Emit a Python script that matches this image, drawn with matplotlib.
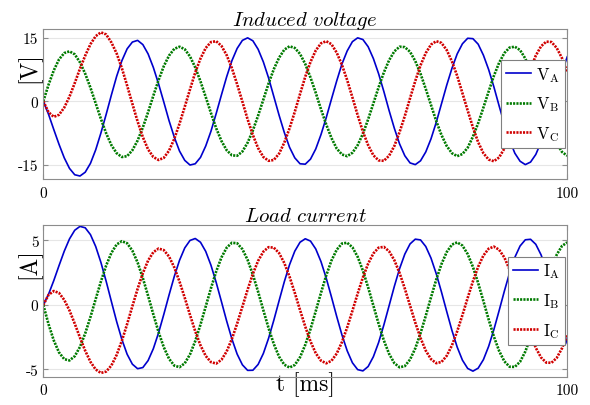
import matplotlib
matplotlib.use('Agg')
from matplotlib import pyplot as plt

# time axis [ms], one sample per ms
t = list(range(0, 101))

# induced voltage [V]
va = [0.0, -3.1, -6.7, -10.2, -13.4, -15.9, -17.4, -17.7, -16.8, -14.7,
      -11.5, -7.5, -3.1, 1.5, 5.9, 9.6, 12.4, 14.0, 14.4, 13.4,
      11.2, 8.0, 4.1, -0.2, -4.6, -8.5, -11.8, -14.0, -15.1, -14.8,
      -13.3, -10.6, -7.1, -2.9, 1.5, 5.8, 9.6, 12.5, 14.4, 15.0,
      14.3, 12.3, 9.3, 5.5, 1.1, -3.3, -7.4, -10.9, -13.4, -14.8,
      -14.9, -13.7, -11.3, -7.9, -3.9, 0.5, 4.8, 8.8, 11.9, 14.1,
      15.0, 14.6, 12.9, 10.1, 6.5, 2.3, -2.2, -6.4, -10.1, -12.9,
      -14.6, -15.0, -14.1, -12.0, -8.9, -5.0, -0.6, 3.8, 7.8, 11.2,
      13.6, 14.9, 14.8, 13.5, 10.9, 7.5, 3.4, -1.1, -5.4, -9.2,
      -12.3, -14.2, -15.0, -14.4, -12.6, -9.7, -6.0, -1.7, 2.7, 6.9,
      10.5]
vb = [0.0, 3.9, 7.3, 9.9, 11.4, 11.8, 11.1, 9.2, 6.5, 3.2,
      -0.5, -4.2, -7.6, -10.4, -12.3, -13.2, -13.0, -11.6, -9.3, -6.2,
      -2.6, 1.3, 5.0, 8.3, 10.8, 12.4, 12.9, 12.3, 10.6, 8.0,
      4.7, 1.0, -2.8, -6.4, -9.4, -11.6, -12.8, -12.9, -11.9, -9.8,
      -6.9, -3.4, 0.4, 4.2, 7.6, 10.3, 12.2, 13.0, 12.6, 11.2,
      8.8, 5.6, 2.0, -1.9, -5.5, -8.7, -11.2, -12.6, -13.0, -12.2,
      -10.4, -7.7, -4.3, -0.5, 3.3, 6.8, 9.7, 11.8, 12.9, 12.8,
      11.7, 9.5, 6.5, 2.9, -0.9, -4.7, -8.0, -10.6, -12.3, -13.0,
      -12.5, -11.0, -8.4, -5.2, -1.5, 2.3, 6.0, 9.1, 11.4, 12.7,
      12.9, 12.1, 10.1, 7.3, 3.8, 0.0, -3.7, -7.2, -10.0, -12.0,
      -12.9]
vc = [0.0, -2.6, -3.7, -3.2, -1.5, 1.1, 4.3, 7.7, 10.8, 13.5,
      15.4, 16.3, 15.8, 13.9, 11.3, 7.8, 3.7, -0.6, -4.8, -8.5,
      -11.4, -13.2, -13.9, -13.4, -11.7, -8.9, -5.3, -1.3, 2.8, 6.8,
      10.1, 12.6, 14.0, 14.2, 13.1, 10.9, 7.8, 4.0, -0.1, -4.3,
      -8.0, -11.1, -13.2, -14.1, -13.9, -12.4, -9.8, -6.4, -2.5, 1.7,
      5.8, 9.3, 12.0, 13.7, 14.2, 13.5, 11.5, 8.6, 5.0, 0.9,
      -3.3, -7.2, -10.4, -12.8, -14.0, -14.1, -12.9, -10.6, -7.3, -3.5,
      0.7, 4.8, 8.5, 11.4, 13.4, 14.2, 13.8, 12.1, 9.4, 6.0,
      1.9, -2.2, -6.2, -9.7, -12.3, -13.8, -14.2, -13.3, -11.2, -8.2,
      -4.5, -0.4, 3.8, 7.6, 10.8, 13.0, 14.1, 14.0, 12.6, 10.2,
      6.9]

# load current [A]
ia = [0.0, 0.83, 1.89, 3.05, 4.17, 5.12, 5.79, 6.09, 5.98, 5.45,
      4.53, 3.29, 1.83, 0.26, -1.29, -2.68, -3.82, -4.59, -4.94, -4.85,
      -4.31, -3.39, -2.16, -0.73, 0.77, 2.21, 3.46, 4.42, 5.00, 5.15,
      4.86, 4.15, 3.08, 1.74, 0.26, -1.25, -2.64, -3.81, -4.64, -5.07,
      -5.06, -4.61, -3.76, -2.58, -1.18, 0.32, 1.80, 3.12, 4.17, 4.86,
      5.13, 4.95, 4.34, 3.36, 2.08, 0.62, -0.89, -2.32, -3.55, -4.48,
      -5.01, -5.11, -4.77, -4.01, -2.91, -1.55, -0.06, 1.44, 2.81, 3.94,
      4.73, 5.10, 5.04, 4.53, 3.63, 2.42, 1.00, -0.51, -1.98, -3.27,
      -4.28, -4.92, -5.13, -4.90, -4.24, -3.21, -1.91, -0.44, 1.07, 2.49,
      3.69, 4.57, 5.05, 5.09, 4.70, 3.89, 2.75, 1.37, -0.13, -1.62,
      -2.97]
ib = [0.0, -1.49, -2.75, -3.68, -4.20, -4.30, -3.97, -3.25, -2.20, -0.93,
      0.46, 1.82, 3.06, 4.04, 4.69, 4.94, 4.78, 4.21, 3.29, 2.08,
      0.71, -0.73, -2.10, -3.28, -4.17, -4.70, -4.82, -4.52, -3.83, -2.80,
      -1.52, -0.12, 1.30, 2.60, 3.68, 4.44, 4.82, 4.78, 4.32, 3.49,
      2.35, 1.02, -0.41, -1.80, -3.03, -4.01, -4.63, -4.85, -4.65, -4.05,
      -3.09, -1.87, -0.48, 0.94, 2.29, 3.44, 4.28, 4.76, 4.82, 4.47,
      3.73, 2.66, 1.36, -0.05, -1.46, -2.75, -3.79, -4.51, -4.83, -4.74,
      -4.23, -3.36, -2.19, -0.84, 0.59, 1.97, 3.17, 4.10, 4.68, 4.85,
      4.60, 3.94, 2.95, 1.70, 0.30, -1.12, -2.45, -3.56, -4.37, -4.79,
      -4.80, -4.40, -3.61, -2.51, -1.19, 0.23, 1.63, 2.89, 3.90, 4.57,
      4.85]
ic = [0.0, 0.78, 1.08, 0.93, 0.39, -0.43, -1.45, -2.53, -3.55, -4.41,
      -5.00, -5.27, -5.16, -4.69, -3.87, -2.77, -1.48, -0.10, 1.25, 2.46,
      3.44, 4.09, 4.37, 4.25, 3.75, 2.91, 1.81, 0.55, -0.77, -2.04,
      -3.13, -3.95, -4.43, -4.54, -4.25, -3.60, -2.63, -1.44, -0.13, 1.19,
      2.41, 3.42, 4.13, 4.48, 4.44, 4.02, 3.25, 2.19, 0.94, -0.39,
      -1.68, -2.83, -3.74, -4.32, -4.52, -4.33, -3.77, -2.88, -1.74, -0.45,
      0.88, 2.13, 3.20, 3.99, 4.44, 4.50, 4.16, 3.47, 2.48, 1.27,
      -0.05, -1.37, -2.56, -3.54, -4.20, -4.51, -4.42, -3.94, -3.13, -2.04,
      -0.78, 0.55, 1.83, 2.96, 3.83, 4.36, 4.52, 4.28, 3.68, 2.75,
      1.59, 0.28, -1.04, -2.28, -3.32, -4.07, -4.47, -4.48, -4.10, -3.36,
      -2.34]

x_ticks = [0, 100]
v_ticks = [-15, 0, 15]
i_ticks = [-5, 0, 5]
v_names = [r'$\mathrm{V}_\mathrm{A}$', r'$\mathrm{V}_\mathrm{B}$', r'$\mathrm{V}_\mathrm{C}$']
i_names = [r'$\mathrm{I}_\mathrm{A}$', r'$\mathrm{I}_\mathrm{B}$', r'$\mathrm{I}_\mathrm{C}$']

plt.rcParams['mathtext.fontset'] = 'cm'
plt.rcParams['font.family'] = 'serif'
plt.rcParams['font.serif'] = ['cmr10']
plt.rcParams['axes.unicode_minus'] = False
plt.rcParams['axes.formatter.use_mathtext'] = True

fig = plt.figure(figsize=(5.9, 4.06), dpi=100)
ax1 = fig.add_axes([0.0734, 0.5567, 0.888, 0.3695])
ax2 = fig.add_axes([0.0734, 0.0697, 0.888, 0.3744])

def style(ax, lines, names, yt, ylim, ylab, title):
    cols = ['#0000cc', '#007a00', '#d00000']
    ax.plot(t, lines[0], color=cols[0], lw=1.2, label=names[0])
    ax.plot(t, lines[1], color=cols[1], lw=1.9, dashes=(0.8, 0.45), label=names[1])
    ax.plot(t, lines[2], color=cols[2], lw=1.9, dashes=(0.8, 0.45), label=names[2])
    ax.set_xlim(0, 100)
    ax.set_ylim(*ylim)
    ax.set_xticks(x_ticks, [str(v) for v in x_ticks])
    ax.set_yticks(yt, [str(v) for v in yt])
    ax.grid(True, color='#e6e6e6', lw=0.8)
    ax.set_axisbelow(True)
    for s in ax.spines.values():
        s.set_color('#8c8c8c')
        s.set_linewidth(0.8)
    ax.tick_params(direction='in', length=3.5, width=0.8, color='#8c8c8c',
                   top=True, right=True, labelsize=11, pad=5)
    ax.tick_params(axis='y', pad=3.5)
    ax.set_title(title, fontsize=15, pad=3)
    ax.set_ylabel(ylab, fontsize=17)
    ax.yaxis.set_label_coords(-0.004, 0.75)
    leg = ax.legend(loc='center right', fontsize=12, fancybox=False,
                    edgecolor='#808080', framealpha=1, handlelength=1.5,
                    handletextpad=0.3, labelspacing=0.65, borderaxespad=0.15,
                    borderpad=0.3)
    leg.get_frame().set_linewidth(0.8)

# top: voltages, bottom: currents
style(ax1, [va, vb, vc], v_names, v_ticks, (-18.4, 17.1), '[V]',
      r'$\mathit{Induced\ voltage}$')
style(ax2, [ia, ib, ic], i_names, i_ticks, (-5.56, 6.22), '[A]',
      r'$\mathit{Load\ current}$')
ax2.set_xlabel('t [ms]', fontsize=17)
ax2.xaxis.set_label_coords(0.5, 0.035)
ax2.xaxis.label.set_va('top')

fig.savefig('out.png', dpi=100)
